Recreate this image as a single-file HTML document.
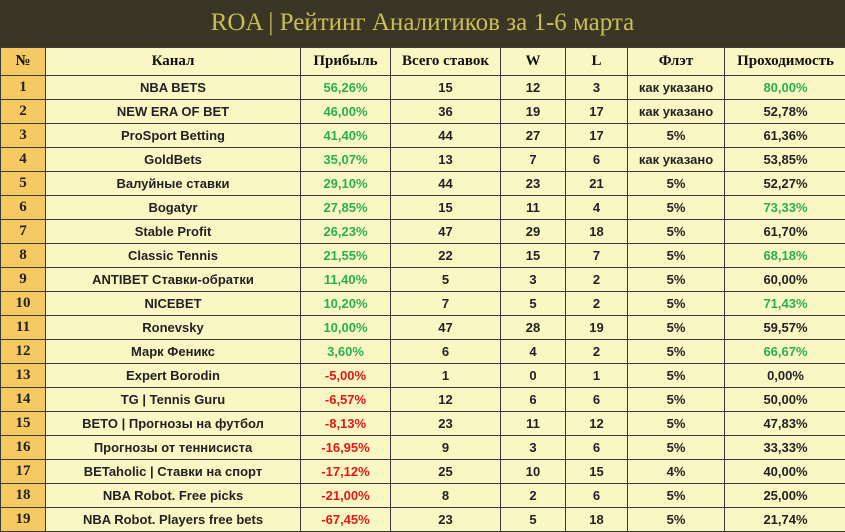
<!DOCTYPE html>
<html><head><meta charset="utf-8">
<style>
html,body{margin:0;padding:0;width:845px;height:531px;overflow:hidden;background:#fbf6c2;}
#title{position:absolute;left:0;top:0;width:845px;height:47px;background:#3a3524;color:#c9bf55;font-family:"Liberation Serif",serif;font-size:25px;text-align:center;line-height:46px;}
table{position:absolute;left:0;top:47px;border-collapse:collapse;table-layout:fixed;width:846px;}
td,th{border:1px solid #3a3a3a;text-align:center;padding:0;font-family:"Liberation Sans",sans-serif;font-weight:bold;font-size:13px;color:#222;height:23px;background:#fbf7c4;white-space:nowrap;overflow:hidden;}
th{height:27px;font-family:"Liberation Serif",serif;font-size:15px;color:#111;}
td.num,th.num{background:#f6ca63;font-family:"Liberation Serif",serif;font-size:15px;}
.g{color:#27b24a;} .r{color:#e01818;}
</style></head><body>
<div id="title">ROA | Рейтинг Аналитиков за 1-6 марта</div>
<table id="tbl">
<colgroup><col style="width:45px"><col style="width:255px"><col style="width:90px"><col style="width:110px"><col style="width:65px"><col style="width:62px"><col style="width:97px"><col style="width:122px"></colgroup>
<thead><tr>
<th class="num">№</th>
<th>Канал</th>
<th>Прибыль</th>
<th>Всего ставок</th>
<th>W</th>
<th>L</th>
<th>Флэт</th>
<th>Проходимость</th>
</tr></thead>
<tbody id="body"></tbody>
</table>
<script>
const channels=["NBA BETS","NEW ERA OF BET","ProSport Betting","GoldBets","Валуйные ставки","Bogatyr","Stable Profit","Classic Tennis","ANTIBET Ставки-обратки","NICEBET","Ronevsky","Марк Феникс","Expert Borodin","TG | Tennis Guru","BETO | Прогнозы на футбол","Прогнозы от теннисиста","BETaholic | Ставки на спорт","NBA Robot. Free picks","NBA Robot. Players free bets"];
const profit=["56,26%","46,00%","41,40%","35,07%","29,10%","27,85%","26,23%","21,55%","11,40%","10,20%","10,00%","3,60%","-5,00%","-6,57%","-8,13%","-16,95%","-17,12%","-21,00%","-67,45%"];
const total=[15,36,44,13,44,15,47,22,5,7,47,6,1,12,23,9,25,8,23];
const wins=[12,19,27,7,23,11,29,15,3,5,28,4,0,6,11,3,10,2,5];
const losses=[3,17,17,6,21,4,18,7,2,2,19,2,1,6,12,6,15,6,18];
const flat=["как указано","как указано","5%","как указано","5%","5%","5%","5%","5%","5%","5%","5%","5%","5%","5%","5%","4%","5%","5%"];
const pass=["80,00%","52,78%","61,36%","53,85%","52,27%","73,33%","61,70%","68,18%","60,00%","71,43%","59,57%","66,67%","0,00%","50,00%","47,83%","33,33%","40,00%","25,00%","21,74%"];
const body=document.getElementById('body');
function cell(tr,txt,name,cls){const td=document.createElement('td');td.textContent=txt;if(cls)td.className=cls;


tr.appendChild(td);}
channels.forEach((c,i)=>{
const tr=document.createElement('tr');


cell(tr,String(i+1),'rank-cell','num');
cell(tr,c,'channel-cell');
const p=parseFloat(profit[i].replace(',','.'));
cell(tr,profit[i],'profit-cell',p>=0?'g':'r');
cell(tr,total[i],'total-bets-cell');
cell(tr,wins[i],'wins-cell');
cell(tr,losses[i],'losses-cell');
cell(tr,flat[i],'flat-cell');
const pr=parseFloat(pass[i].replace(',','.'));
cell(tr,pass[i],'pass-rate-cell',pr>=62?'g':'');
body.appendChild(tr);
});
</script>
</body></html>
